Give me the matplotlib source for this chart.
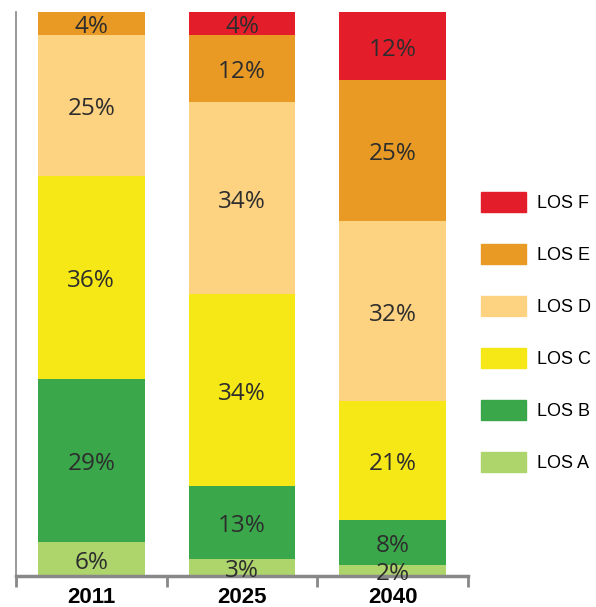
import matplotlib.pyplot as plt
from matplotlib.patches import Patch

plt.rcParams["font.family"] = ["Liberation Sans", "DejaVu Sans"]

# data
years = ["2011", "2025", "2040"]
levels = ["LOS A", "LOS B", "LOS C", "LOS D", "LOS E", "LOS F"]
los_a = [6, 3, 2]
los_b = [29, 13, 8]
los_c = [36, 34, 21]
los_d = [25, 34, 32]
los_e = [4, 12, 25]
los_f = [0, 4, 12]

colors = ["#AED46C", "#3AA84A", "#F5E816", "#FDD281", "#E89A24", "#E31E2A"]
series = [los_a, los_b, los_c, los_d, los_e, los_f]

fig = plt.figure(figsize=(5.96, 6.07), dpi=100)
ax = fig.add_axes([16 / 596, 31 / 607, 452 / 596, 564 / 607])

x = range(len(years))
bottom = [0, 0, 0]
for vals, col in zip(series, colors):
    ax.bar(x, vals, bottom=bottom, width=0.71, color=col, linewidth=0)
    for i, v in enumerate(vals):
        if v > 0:
            ax.text(i, bottom[i] + v / 2 - 0.7, f"{v}%", ha="center", va="center",
                    fontsize=17.5, color="#2d2d2d", family=["Open Sans", "DejaVu Sans"])
    bottom = [b + v for b, v in zip(bottom, vals)]

ax.set_xlim(-0.5, 2.5)
ax.set_ylim(0, 100)
ax.set_yticks([])

# category boundary ticks and centred labels
ax.set_xticks([-0.5, 0.5, 1.5, 2.5])
ax.set_xticklabels([])
ax.tick_params(axis="x", which="major", direction="out", length=8, width=2, color="#888888")
ax.set_xticks([0, 1, 2], minor=True)
ax.set_xticklabels(years, minor=True, fontsize=16, fontweight="bold")
ax.tick_params(axis="x", which="minor", length=0, pad=8)

for s in ["top", "right"]:
    ax.spines[s].set_visible(False)
ax.spines["left"].set_color("#888888")
ax.spines["left"].set_linewidth(1.2)
ax.spines["bottom"].set_color("#888888")
ax.spines["bottom"].set_linewidth(2.5)

handles = [Patch(color=c) for c in colors][::-1]
fig.legend(handles, levels[::-1], loc="upper left", bbox_to_anchor=(474 / 596, 1 - 185 / 607),
           frameon=False, fontsize=13, handlelength=2.5, handleheight=1.3,
           handletextpad=0.6, labelspacing=1.78, borderaxespad=0)

fig.savefig("out.png", dpi=100)
